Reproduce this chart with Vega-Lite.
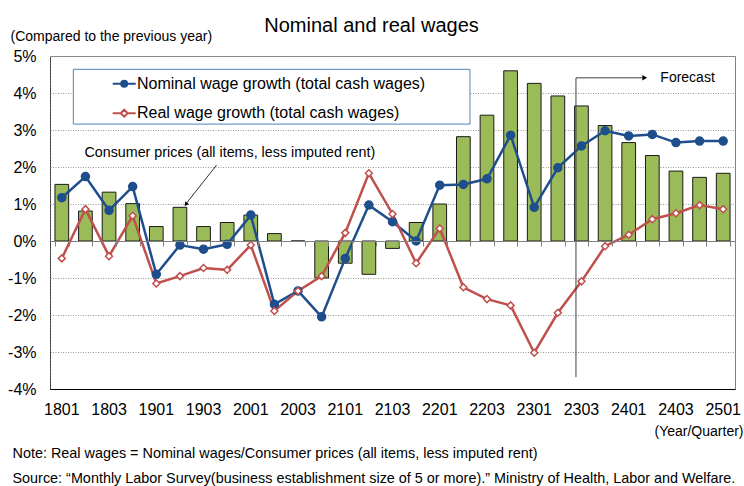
{
  "$schema": "https://vega.github.io/schema/vega-lite/v6.json",
  "autosize": "none",
  "width": 685,
  "height": 333,
  "padding": {"left": 50, "top": 56, "right": 9, "bottom": 97},
  "config": {
    "font": "Liberation Sans",
    "view": {"stroke": "#808080", "strokeWidth": 1},
    "axis": {"labelFont": "Liberation Sans", "titleFont": "Liberation Sans", "labelColor": "#000", "titleColor": "#000", "titleFontWeight": "normal"}
  },
  "title": {"text": "Nominal and real wages", "fontSize": 20, "fontWeight": "normal", "font": "Liberation Sans", "color": "#000", "anchor": "middle", "frame": "group", "dx": -21, "dy": 15, "offset": 8},
  "datasets": {
    "cpi": [
      {"q": "1801", "cpi": 1.53}, {"q": "1802", "cpi": 0.81}, {"q": "1803", "cpi": 1.32}, {"q": "1804", "cpi": 1.01},
      {"q": "1901", "cpi": 0.39}, {"q": "1902", "cpi": 0.91}, {"q": "1903", "cpi": 0.39}, {"q": "1904", "cpi": 0.5},
      {"q": "2001", "cpi": 0.7}, {"q": "2002", "cpi": 0.2}, {"q": "2003", "cpi": 0.0}, {"q": "2004", "cpi": -1.0},
      {"q": "2101", "cpi": -0.6}, {"q": "2102", "cpi": -0.9}, {"q": "2103", "cpi": -0.2}, {"q": "2104", "cpi": 0.5},
      {"q": "2201", "cpi": 1.0}, {"q": "2202", "cpi": 2.82}, {"q": "2203", "cpi": 3.4}, {"q": "2204", "cpi": 4.6},
      {"q": "2301", "cpi": 4.26}, {"q": "2302", "cpi": 3.92}, {"q": "2303", "cpi": 3.65}, {"q": "2304", "cpi": 3.12},
      {"q": "2401", "cpi": 2.66}, {"q": "2402", "cpi": 2.31}, {"q": "2403", "cpi": 1.89}, {"q": "2404", "cpi": 1.72},
      {"q": "2501", "cpi": 1.83}
    ],
    "wages": [
      {"q": "1801", "series": "Nominal wage growth (total cash wages)", "value": 1.17},
      {"q": "1802", "series": "Nominal wage growth (total cash wages)", "value": 1.74},
      {"q": "1803", "series": "Nominal wage growth (total cash wages)", "value": 0.83},
      {"q": "1804", "series": "Nominal wage growth (total cash wages)", "value": 1.47},
      {"q": "1901", "series": "Nominal wage growth (total cash wages)", "value": -0.9},
      {"q": "1902", "series": "Nominal wage growth (total cash wages)", "value": -0.11},
      {"q": "1903", "series": "Nominal wage growth (total cash wages)", "value": -0.22},
      {"q": "1904", "series": "Nominal wage growth (total cash wages)", "value": -0.09},
      {"q": "2001", "series": "Nominal wage growth (total cash wages)", "value": 0.7},
      {"q": "2002", "series": "Nominal wage growth (total cash wages)", "value": -1.71},
      {"q": "2003", "series": "Nominal wage growth (total cash wages)", "value": -1.35},
      {"q": "2004", "series": "Nominal wage growth (total cash wages)", "value": -2.05},
      {"q": "2101", "series": "Nominal wage growth (total cash wages)", "value": -0.47},
      {"q": "2102", "series": "Nominal wage growth (total cash wages)", "value": 0.97},
      {"q": "2103", "series": "Nominal wage growth (total cash wages)", "value": 0.52},
      {"q": "2104", "series": "Nominal wage growth (total cash wages)", "value": 0.0},
      {"q": "2201", "series": "Nominal wage growth (total cash wages)", "value": 1.51},
      {"q": "2202", "series": "Nominal wage growth (total cash wages)", "value": 1.53},
      {"q": "2203", "series": "Nominal wage growth (total cash wages)", "value": 1.68},
      {"q": "2204", "series": "Nominal wage growth (total cash wages)", "value": 2.86},
      {"q": "2301", "series": "Nominal wage growth (total cash wages)", "value": 0.91},
      {"q": "2302", "series": "Nominal wage growth (total cash wages)", "value": 1.98},
      {"q": "2303", "series": "Nominal wage growth (total cash wages)", "value": 2.57},
      {"q": "2304", "series": "Nominal wage growth (total cash wages)", "value": 2.98},
      {"q": "2401", "series": "Nominal wage growth (total cash wages)", "value": 2.84},
      {"q": "2402", "series": "Nominal wage growth (total cash wages)", "value": 2.88},
      {"q": "2403", "series": "Nominal wage growth (total cash wages)", "value": 2.66},
      {"q": "2404", "series": "Nominal wage growth (total cash wages)", "value": 2.7},
      {"q": "2501", "series": "Nominal wage growth (total cash wages)", "value": 2.7},
      {"q": "1801", "series": "Real wage growth (total cash wages)", "value": -0.47},
      {"q": "1802", "series": "Real wage growth (total cash wages)", "value": 0.86},
      {"q": "1803", "series": "Real wage growth (total cash wages)", "value": -0.41},
      {"q": "1804", "series": "Real wage growth (total cash wages)", "value": 0.68},
      {"q": "1901", "series": "Real wage growth (total cash wages)", "value": -1.15},
      {"q": "1902", "series": "Real wage growth (total cash wages)", "value": -0.95},
      {"q": "1903", "series": "Real wage growth (total cash wages)", "value": -0.73},
      {"q": "1904", "series": "Real wage growth (total cash wages)", "value": -0.78},
      {"q": "2001", "series": "Real wage growth (total cash wages)", "value": -0.11},
      {"q": "2002", "series": "Real wage growth (total cash wages)", "value": -1.89},
      {"q": "2003", "series": "Real wage growth (total cash wages)", "value": -1.35},
      {"q": "2004", "series": "Real wage growth (total cash wages)", "value": -0.95},
      {"q": "2101", "series": "Real wage growth (total cash wages)", "value": 0.22},
      {"q": "2102", "series": "Real wage growth (total cash wages)", "value": 1.83},
      {"q": "2103", "series": "Real wage growth (total cash wages)", "value": 0.73},
      {"q": "2104", "series": "Real wage growth (total cash wages)", "value": -0.6},
      {"q": "2201", "series": "Real wage growth (total cash wages)", "value": 0.34},
      {"q": "2202", "series": "Real wage growth (total cash wages)", "value": -1.25},
      {"q": "2203", "series": "Real wage growth (total cash wages)", "value": -1.57},
      {"q": "2204", "series": "Real wage growth (total cash wages)", "value": -1.74},
      {"q": "2301", "series": "Real wage growth (total cash wages)", "value": -3.02},
      {"q": "2302", "series": "Real wage growth (total cash wages)", "value": -1.94},
      {"q": "2303", "series": "Real wage growth (total cash wages)", "value": -1.09},
      {"q": "2304", "series": "Real wage growth (total cash wages)", "value": -0.14},
      {"q": "2401", "series": "Real wage growth (total cash wages)", "value": 0.17},
      {"q": "2402", "series": "Real wage growth (total cash wages)", "value": 0.59},
      {"q": "2403", "series": "Real wage growth (total cash wages)", "value": 0.75},
      {"q": "2404", "series": "Real wage growth (total cash wages)", "value": 0.97},
      {"q": "2501", "series": "Real wage growth (total cash wages)", "value": 0.86}
    ],
    "notes": [
      {"label": "Consumer prices (all items, less imputed rent)"},
      {"label": "Forecast"}
    ]
  },
  "resolve": {"axis": {"x": "independent", "y": "shared"}},
  "layer": [
    {
      "data": {"name": "cpi"},
      "mark": {"type": "bar", "fill": "#9BBB59", "stroke": "#1a1a1a", "strokeWidth": 1},
      "encoding": {
        "x": {
          "field": "q", "type": "ordinal",
          "scale": {"paddingInner": 0.42, "paddingOuter": 0.21},
          "axis": {
            "orient": "bottom",
            "values": ["1801","1803","1901","1903","2001","2003","2101","2103","2201","2203","2301","2303","2401","2403","2501"],
            "labelAngle": 0, "labelFontSize": 16, "labelPadding": 12, "ticks": false, "labelOverlap": false,
            "domain": true, "domainColor": "#000", "domainWidth": 1,
            "title": "(Year/Quarter)", "titleFontSize": 14, "titleAlign": "right", "titleBaseline": "alphabetic",
            "titleAnchor": null, "titleX": 693, "titleY": 46
          }
        },
        "y": {
          "field": "cpi", "type": "quantitative",
          "scale": {"domain": [-4, 5], "nice": false, "zero": false},
          "axis": {"values": [-4, -3, -2, -1, 0, 1, 2, 3, 4, 5], "tickCount": 10, "labelExpr": "datum.value + '%'", "labelOverlap": false, "labelFontSize": 16, "labelPadding": 14, "ticks": false, "domain": true, "domainColor": "#333", "domainDash": [2, 1], "grid": true, "gridColor": "#999", "gridDash": [1, 1.5], "gridWidth": 1, "title": "(Compared to the previous year)", "titleAngle": 0, "titleFontSize": 14, "titleAlign": "left", "titleBaseline": "alphabetic", "titleAnchor": null, "titleX": -40, "titleY": -16}
        }
      }
    },
    {
      "data": {"name": "notes"},
      "transform": [{"filter": "datum.label === 'Forecast'"}],
      "mark": {"type": "rect", "fill": "#ffffff", "stroke": "#4F81BD", "strokeWidth": 1, "xOffset": -12.1, "x2Offset": 6.6},
      "encoding": {
        "x": {"datum": "1802", "type": "ordinal", "bandPosition": 0.5, "axis": null},
        "x2": {"datum": "2202"},
        "y": {"datum": 4.64, "type": "quantitative", "axis": {"values": [-4, -3, -2, -1, 0, 1, 2, 3, 4, 5], "tickCount": 10, "labelExpr": "datum.value + '%'", "labelOverlap": false, "labelFontSize": 16, "labelPadding": 14, "ticks": false, "domain": true, "domainColor": "#333", "domainDash": [2, 1], "grid": true, "gridColor": "#999", "gridDash": [1, 1.5], "gridWidth": 1, "title": "(Compared to the previous year)", "titleAngle": 0, "titleFontSize": 14, "titleAlign": "left", "titleBaseline": "alphabetic", "titleAnchor": null, "titleX": -40, "titleY": -16}},
        "y2": {"datum": 3.16}
      }
    },
    {
      "data": {"name": "wages"},
      "mark": {"type": "line", "strokeWidth": 2.5},
      "encoding": {
        "x": {
          "field": "q", "type": "ordinal",
          "axis": {
            "orient": "bottom", "offset": -148, "labels": false, "zindex": 1,
            "domain": true, "domainColor": "#808080", "ticks": true, "tickBand": "extent",
            "tickSize": 5, "tickColor": "#808080",
            "title": ["Note: Real wages = Nominal wages/Consumer prices (all items, less imputed rent)", "Source: \u201cMonthly Labor Survey(business establishment size of 5 or more).\u201d Ministry of Health, Labor and Welfare."],
            "titleFontSize": 14.4, "titleAlign": "left", "titleBaseline": "alphabetic", "titleAnchor": null,
            "titleX": -38, "titleY": 216, "titleLineHeight": 25
          }
        },
        "y": {"field": "value", "type": "quantitative", "axis": {"values": [-4, -3, -2, -1, 0, 1, 2, 3, 4, 5], "tickCount": 10, "labelExpr": "datum.value + '%'", "labelOverlap": false, "labelFontSize": 16, "labelPadding": 14, "ticks": false, "domain": true, "domainColor": "#333", "domainDash": [2, 1], "grid": true, "gridColor": "#999", "gridDash": [1, 1.5], "gridWidth": 1, "title": "(Compared to the previous year)", "titleAngle": 0, "titleFontSize": 14, "titleAlign": "left", "titleBaseline": "alphabetic", "titleAnchor": null, "titleX": -40, "titleY": -16}},
        "color": {
          "field": "series", "type": "nominal",
          "scale": {"domain": ["Nominal wage growth (total cash wages)", "Real wage growth (total cash wages)"], "range": ["#1F4E8C", "#C0504D"]},
          "legend": {
            "title": null, "orient": "none", "legendX": 23, "legendY": 14.3, "direction": "vertical",
            "padding": 5.5,
            "symbolSize": 100, "symbolStrokeWidth": 2, "symbolOffset": 37.7, "labelOffset": 4.8,
            "labelFontSize": 16, "labelFont": "Liberation Sans", "labelColor": "#000", "rowPadding": 13.4, "labelLimit": 500,
            "encode": {
              "symbols": {
                "update": {
                  "shape": {"signal": "datum.value === 'Nominal wage growth (total cash wages)' ? 'M-2.3,0H-0.6M0.6,0H2.3M-0.6,0A0.6,0.6,0,1,0,0.6,0A0.6,0.6,0,1,0,-0.6,0Z' : 'M-2.3,0H-0.7M0.7,0H2.3M-0.7,0L0,-0.7L0.7,0L0,0.7Z'"},
                  "fill": {"signal": "datum.value === 'Nominal wage growth (total cash wages)' ? '#1F4E8C' : '#ffffff'"},
                  "opacity": {"value": 1}
                }
              }
            }
          }
        }
      }
    },
    {
      "data": {"name": "wages"},
      "mark": {"type": "point", "strokeWidth": 1.5, "opacity": 1},
      "encoding": {
        "x": {"field": "q", "type": "ordinal", "axis": null},
        "y": {"field": "value", "type": "quantitative", "axis": {"values": [-4, -3, -2, -1, 0, 1, 2, 3, 4, 5], "tickCount": 10, "labelExpr": "datum.value + '%'", "labelOverlap": false, "labelFontSize": 16, "labelPadding": 14, "ticks": false, "domain": true, "domainColor": "#333", "domainDash": [2, 1], "grid": true, "gridColor": "#999", "gridDash": [1, 1.5], "gridWidth": 1, "title": "(Compared to the previous year)", "titleAngle": 0, "titleFontSize": 14, "titleAlign": "left", "titleBaseline": "alphabetic", "titleAnchor": null, "titleX": -40, "titleY": -16}},
        "stroke": {"field": "series", "type": "nominal", "scale": {"range": ["#1F4E8C", "#C0504D"]}, "legend": null},
        "fill": {"field": "series", "type": "nominal", "scale": {"range": ["#1F4E8C", "#ffffff"]}, "legend": null},
        "shape": {"field": "series", "type": "nominal", "scale": {"range": ["circle", "diamond"]}, "legend": null},
        "size": {"field": "series", "type": "nominal", "scale": {"range": [64, 49]}, "legend": null}
      }
    },
    {
      "data": {"name": "notes"},
      "transform": [{"filter": "datum.label === 'Consumer prices (all items, less imputed rent)'"}],
      "layer": [
        {
          "mark": {"type": "text", "align": "left", "baseline": "middle", "fontSize": 14.3, "dx": -1, "color": "#000"},
          "encoding": {
            "x": {"datum": "1802", "type": "ordinal", "axis": null},
            "y": {"datum": 2.38, "type": "quantitative", "axis": {"values": [-4, -3, -2, -1, 0, 1, 2, 3, 4, 5], "tickCount": 10, "labelExpr": "datum.value + '%'", "labelOverlap": false, "labelFontSize": 16, "labelPadding": 14, "ticks": false, "domain": true, "domainColor": "#333", "domainDash": [2, 1], "grid": true, "gridColor": "#999", "gridDash": [1, 1.5], "gridWidth": 1, "title": "(Compared to the previous year)", "titleAngle": 0, "titleFontSize": 14, "titleAlign": "left", "titleBaseline": "alphabetic", "titleAnchor": null, "titleX": -40, "titleY": -16}},
            "text": {"field": "label"}
          }
        },
        {
          "mark": {"type": "rule", "color": "#000", "strokeWidth": 0.8, "xOffset": 13, "x2Offset": 5},
          "encoding": {
            "x": {"datum": "1903", "type": "ordinal", "axis": null},
            "x2": {"datum": "1902"},
            "y": {"datum": 2.05, "type": "quantitative", "axis": {"values": [-4, -3, -2, -1, 0, 1, 2, 3, 4, 5], "tickCount": 10, "labelExpr": "datum.value + '%'", "labelOverlap": false, "labelFontSize": 16, "labelPadding": 14, "ticks": false, "domain": true, "domainColor": "#333", "domainDash": [2, 1], "grid": true, "gridColor": "#999", "gridDash": [1, 1.5], "gridWidth": 1, "title": "(Compared to the previous year)", "titleAngle": 0, "titleFontSize": 14, "titleAlign": "left", "titleBaseline": "alphabetic", "titleAnchor": null, "titleX": -40, "titleY": -16}},
            "y2": {"datum": 0.97}
          }
        },
        {
          "mark": {"type": "point", "shape": "triangle-up", "angle": 217, "size": 22, "filled": true, "color": "#000", "opacity": 1, "xOffset": 6},
          "encoding": {
            "x": {"datum": "1902", "type": "ordinal", "axis": null},
            "y": {"datum": 0.99, "type": "quantitative", "axis": {"values": [-4, -3, -2, -1, 0, 1, 2, 3, 4, 5], "tickCount": 10, "labelExpr": "datum.value + '%'", "labelOverlap": false, "labelFontSize": 16, "labelPadding": 14, "ticks": false, "domain": true, "domainColor": "#333", "domainDash": [2, 1], "grid": true, "gridColor": "#999", "gridDash": [1, 1.5], "gridWidth": 1, "title": "(Compared to the previous year)", "titleAngle": 0, "titleFontSize": 14, "titleAlign": "left", "titleBaseline": "alphabetic", "titleAnchor": null, "titleX": -40, "titleY": -16}}
          }
        }
      ]
    },
    {
      "data": {"name": "notes"},
      "transform": [{"filter": "datum.label === 'Forecast'"}],
      "layer": [
        {
          "mark": {"type": "text", "align": "left", "baseline": "middle", "fontSize": 14, "dx": 8, "color": "#000"},
          "encoding": {
            "x": {"datum": "2402", "type": "ordinal", "axis": null},
            "y": {"datum": 4.4, "type": "quantitative", "axis": {"values": [-4, -3, -2, -1, 0, 1, 2, 3, 4, 5], "tickCount": 10, "labelExpr": "datum.value + '%'", "labelOverlap": false, "labelFontSize": 16, "labelPadding": 14, "ticks": false, "domain": true, "domainColor": "#333", "domainDash": [2, 1], "grid": true, "gridColor": "#999", "gridDash": [1, 1.5], "gridWidth": 1, "title": "(Compared to the previous year)", "titleAngle": 0, "titleFontSize": 14, "titleAlign": "left", "titleBaseline": "alphabetic", "titleAnchor": null, "titleX": -40, "titleY": -16}},
            "text": {"field": "label"}
          }
        },
        {
          "mark": {"type": "rule", "color": "#404040", "strokeWidth": 1, "xOffset": -5.5},
          "encoding": {
            "x": {"datum": "2303", "type": "ordinal", "axis": null},
            "y": {"datum": 4.41, "type": "quantitative", "axis": {"values": [-4, -3, -2, -1, 0, 1, 2, 3, 4, 5], "tickCount": 10, "labelExpr": "datum.value + '%'", "labelOverlap": false, "labelFontSize": 16, "labelPadding": 14, "ticks": false, "domain": true, "domainColor": "#333", "domainDash": [2, 1], "grid": true, "gridColor": "#999", "gridDash": [1, 1.5], "gridWidth": 1, "title": "(Compared to the previous year)", "titleAngle": 0, "titleFontSize": 14, "titleAlign": "left", "titleBaseline": "alphabetic", "titleAnchor": null, "titleX": -40, "titleY": -16}},
            "y2": {"datum": -3.68}
          }
        },
        {
          "mark": {"type": "rule", "color": "#404040", "strokeWidth": 1, "xOffset": -5.5, "x2Offset": 14},
          "encoding": {
            "x": {"datum": "2303", "type": "ordinal", "axis": null},
            "x2": {"datum": "2401"},
            "y": {"datum": 4.41, "type": "quantitative", "axis": {"values": [-4, -3, -2, -1, 0, 1, 2, 3, 4, 5], "tickCount": 10, "labelExpr": "datum.value + '%'", "labelOverlap": false, "labelFontSize": 16, "labelPadding": 14, "ticks": false, "domain": true, "domainColor": "#333", "domainDash": [2, 1], "grid": true, "gridColor": "#999", "gridDash": [1, 1.5], "gridWidth": 1, "title": "(Compared to the previous year)", "titleAngle": 0, "titleFontSize": 14, "titleAlign": "left", "titleBaseline": "alphabetic", "titleAnchor": null, "titleX": -40, "titleY": -16}}
          }
        },
        {
          "mark": {"type": "point", "shape": "triangle-right", "size": 30, "filled": true, "color": "#000", "opacity": 1, "xOffset": 16},
          "encoding": {
            "x": {"datum": "2401", "type": "ordinal", "axis": null},
            "y": {"datum": 4.41, "type": "quantitative", "axis": {"values": [-4, -3, -2, -1, 0, 1, 2, 3, 4, 5], "tickCount": 10, "labelExpr": "datum.value + '%'", "labelOverlap": false, "labelFontSize": 16, "labelPadding": 14, "ticks": false, "domain": true, "domainColor": "#333", "domainDash": [2, 1], "grid": true, "gridColor": "#999", "gridDash": [1, 1.5], "gridWidth": 1, "title": "(Compared to the previous year)", "titleAngle": 0, "titleFontSize": 14, "titleAlign": "left", "titleBaseline": "alphabetic", "titleAnchor": null, "titleX": -40, "titleY": -16}}
          }
        }
      ]
    }
  ]
}
